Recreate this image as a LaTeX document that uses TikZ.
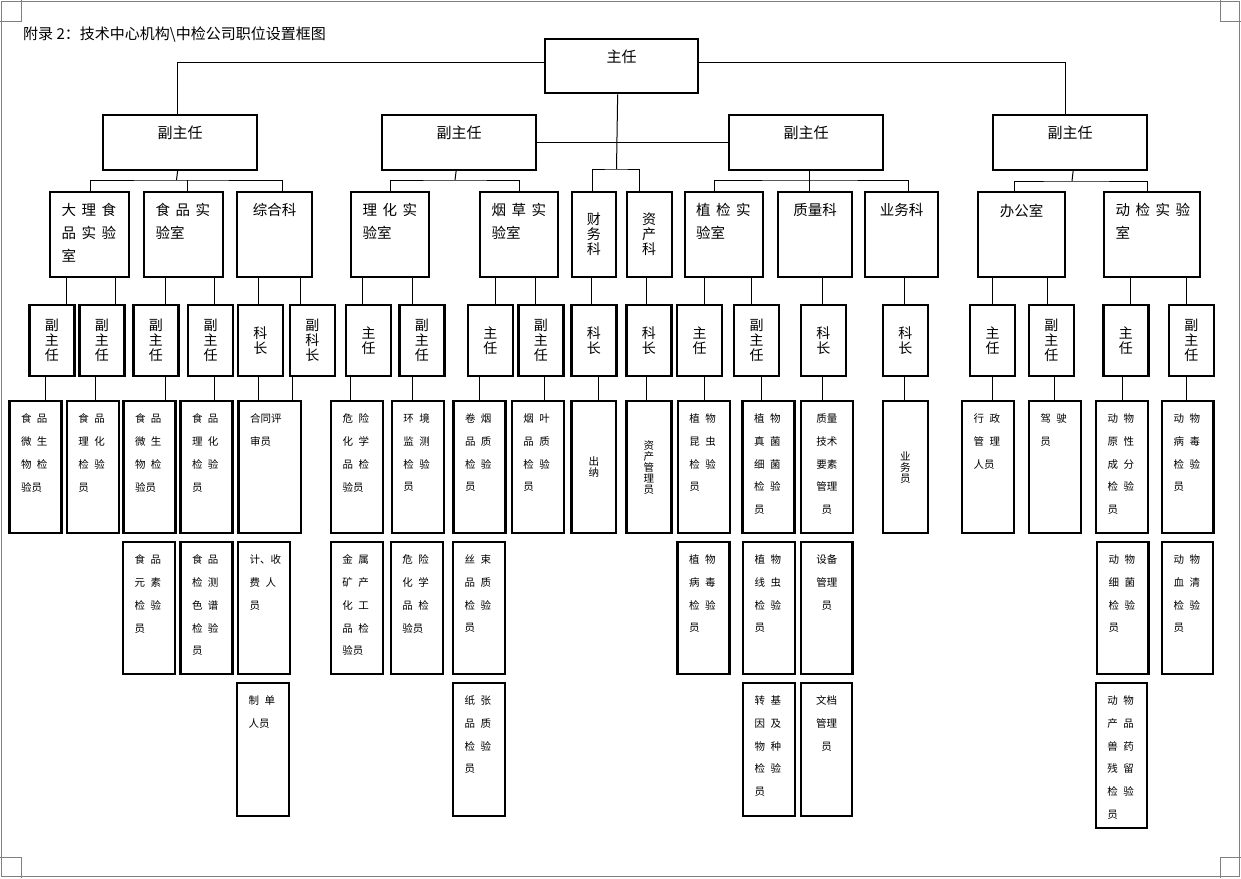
\documentclass[tikz,border=0pt]{standalone}
\usepackage{fontspec}
\setmainfont{Noto Sans CJK SC}
\newcommand\gap{\hspace{5.5pt}}
\newcommand\titlefont{\fontsize{15}{17}\selectfont}
\newcommand\headfont{\fontsize{15}{17}\selectfont}
\newcommand\deptfont{\fontsize{14.5}{22.8}\selectfont}
\newcommand\postfont{\fontsize{14}{15}\selectfont}
\newcommand\stafffont{\fontsize{10.5}{22.8}\selectfont}
\newcommand\staffvfont{\fontsize{10.5}{11}\selectfont}
\tikzset{head/.style={
            draw,
            line width=2.3pt,
            inner sep=0pt,
            anchor=north west,
            minimum width=154pt,
            minimum height=54.5pt
        },
        dept/.style={
            draw,
            line width=2.3pt,
            inner sep=0pt,
            anchor=north west,
            minimum width=78pt,
            minimum height=85pt
        },
        post/.style={
            draw,
            line width=2.3pt,
            inner sep=0pt,
            anchor=north west,
            minimum width=45pt,
            minimum height=71pt,
            align=center,
            font=\postfont
        },
        staff/.style={
            draw,
            line width=2.3pt,
            inner sep=0pt,
            anchor=north west,
            minimum width=52pt,
            minimum height=132pt
        },
        staffv/.style={
            staff,
            minimum width=45pt,
            align=center,
            font=\staffvfont
        },
        headtext/.style={anchor=north, yshift=-12pt, inner sep=0pt, font=\headfont},
        depttext/.style={anchor=north west, xshift=12.5pt, yshift=-12.5pt, inner sep=0pt, align=left, font=\deptfont},
        deptmid/.style={anchor=north, yshift=-12.5pt, inner sep=0pt, font=\deptfont},
        stafftext/.style={anchor=north west, xshift=12.5pt, yshift=-13.5pt, inner sep=0pt, align=left, font=\stafffont},
        staffmid/.style={anchor=north, yshift=-13.5pt, inner sep=0pt, align=center, font=\stafffont},
        link/.style={line width=1pt},
        frame/.style={gray, line width=0.8pt}
    }
\begin{document}
\begin{tikzpicture}[x=1pt,y=-1pt]
    \useasboundingbox (0,0) rectangle (1241,878);
    % page frame and corner marks
    \draw[frame] (1,1) rectangle (1239.5,876.5);
    \draw[frame] (21,0) -- (21,21) -- (0,21);
    \draw[frame] (1220,0) -- (1220,21) -- (1241,21);
    \draw[frame] (0,857) -- (21,857) -- (21,878);
    \draw[frame] (1241,857) -- (1220,857) -- (1220,878);
    \node[anchor=west, inner sep=0pt, font=\titlefont] (title) at (23,34) {附录 2：技术中心机构\textbackslash 中检公司职位设置框图};

    % heads
    \node[head, minimum width=153pt, minimum height=54pt, label={[headtext]north:主任}] (top) at (544,38) {};
    \node[head, label={[headtext]north:副主任}] (dA) at (102,114) {};
    \node[head, label={[headtext]north:副主任}] (dB) at (381,114) {};
    \node[head, label={[headtext]north:副主任}] (dC) at (728,114) {};
    \node[head, label={[headtext]north:副主任}] (dD) at (992,114) {};

    % departments
    \node[dept, minimum width=79pt, label={[depttext]north west:{大\gap 理\gap 食\\品\gap 实\gap 验\\室}}] (lab1) at (49,191) {};
    \node[dept, minimum width=79pt, label={[depttext]north west:{食\gap 品\gap 实\\验室}}] (lab2) at (143,191) {};
    \node[dept, minimum width=75pt, label={[deptmid]north:综合科}] (gen) at (236,191) {};
    \node[dept, label={[depttext]north west:{理\gap 化\gap 实\\验室}}] (lab3) at (350,191) {};
    \node[dept, label={[depttext]north west:{烟\gap 草\gap 实\\验室}}] (lab4) at (479,191) {};
    \node[dept, minimum width=44.5pt, align=center, font=\postfont] (fin) at (570.5,191) {财\\务\\科};
    \node[dept, minimum width=45pt, align=center, font=\postfont] (ast) at (625.5,191) {资\\产\\科};
    \node[dept, label={[depttext]north west:{植\gap 检\gap 实\\验室}}] (lab5) at (683.5,191) {};
    \node[dept, minimum width=74pt, label={[deptmid]north:质量科}] (qua) at (777,191) {};
    \node[dept, minimum width=73pt, label={[deptmid]north:业务科}] (biz) at (864,191) {};
    \node[dept, minimum width=87pt, label={[deptmid]north:办公室}] (off) at (977,191) {};
    \node[dept, minimum width=96pt, label={[depttext]north west:{动\gap 检\gap 实\gap 验\\室}}] (lab6) at (1103,191) {};

    % posts
    \node[post] (a1) at (28.3,304) {副\\主\\任};
    \node[post] (a2) at (78.3,304) {副\\主\\任};
    \node[post] (b1) at (132.3,304) {副\\主\\任};
    \node[post] (b2) at (187,304) {副\\主\\任};
    \node[post] (c1) at (236.7,304) {科\\长};
    \node[post] (c2) at (288.7,304) {副\\科\\长};
    \node[post] (d1) at (345,304) {主\\任};
    \node[post] (d2) at (398.3,304) {副\\主\\任};
    \node[post] (e1) at (466.7,304) {主\\任};
    \node[post] (e2) at (517.3,304) {副\\主\\任};
    \node[post] (f1) at (570.3,304) {科\\长};
    \node[post] (g1) at (625.3,304) {科\\长};
    \node[post] (h1) at (676,304) {主\\任};
    \node[post] (h2) at (733,304) {副\\主\\任};
    \node[post] (q1) at (799.7,304) {科\\长};
    \node[post] (k1) at (881.7,304) {科\\长};
    \node[post] (o1) at (969,304) {主\\任};
    \node[post] (o2) at (1027.7,304) {副\\主\\任};
    \node[post] (m1) at (1102.3,304) {主\\任};
    \node[post] (m2) at (1167.7,304) {副\\主\\任};

    % staff, first row
    \node[staff, label={[stafftext]north west:{食\gap 品\\微\gap 生\\物\gap 检\\验员}}] (s1) at (8.3,400) {};
    \node[staff, label={[stafftext]north west:{食\gap 品\\理\gap 化\\检\gap 验\\员}}] (s2) at (65.7,400) {};
    \node[staff, label={[stafftext]north west:{食\gap 品\\微\gap 生\\物\gap 检\\验员}}] (s3) at (122.3,400) {};
    \node[staff, label={[stafftext]north west:{食\gap 品\\理\gap 化\\检\gap 验\\员}}] (s4) at (179.3,400) {};
    \node[staff, minimum width=62.7pt, label={[stafftext]north west:{合同评\\审员}}] (s5) at (237.3,400) {};
    \node[staff, label={[stafftext]north west:{危\gap 险\\化\gap 学\\品\gap 检\\验员}}] (s6) at (330,400) {};
    \node[staff, label={[stafftext]north west:{环\gap 境\\监\gap 测\\检\gap 验\\员}}] (s7) at (390.7,400) {};
    \node[staff, label={[stafftext]north west:{卷\gap 烟\\品\gap 质\\检\gap 验\\员}}] (s8) at (452.3,400) {};
    \node[staff, label={[stafftext]north west:{烟\gap 叶\\品\gap 质\\检\gap 验\\员}}] (s9) at (510.7,400) {};
    \node[staffv, minimum width=44.7pt] (s10) at (570.3,400) {出\\纳};
    \node[staffv] (s11) at (625.3,400) {资\\产\\管\\理\\员};
    \node[staff, label={[stafftext]north west:{植\gap 物\\昆\gap 虫\\检\gap 验\\员}}] (s12) at (676.7,400) {};
    \node[staff, label={[stafftext]north west:{植\gap 物\\真\gap 菌\\细\gap 菌\\检\gap 验\\员}}] (s13) at (741.3,400) {};
    \node[staff, label={[staffmid]north:{质量\\技术\\要素\\管理\\员}}] (s14) at (799.7,400) {};
    \node[staffv] (s15) at (881.7,400) {业\\务\\员};
    \node[staff, label={[stafftext]north west:{行\gap 政\\管\gap 理\\人员}}] (s16) at (961,400) {};
    \node[staff, label={[stafftext]north west:{驾\gap 驶\\员}}] (s17) at (1027.7,400) {};
    \node[staff, label={[stafftext]north west:{动\gap 物\\原\gap 性\\成\gap 分\\检\gap 验\\员}}] (s18) at (1095,400) {};
    \node[staff, minimum width=51.3pt, label={[stafftext]north west:{动\gap 物\\病\gap 毒\\检\gap 验\\员}}] (s19) at (1161,400) {};

    % staff, second row
    \node[staff, label={[stafftext]north west:{食\gap 品\\元\gap 素\\检\gap 验\\员}}] (t1) at (122,541) {};
    \node[staff, label={[stafftext]north west:{食\gap 品\\检\gap 测\\色\gap 谱\\检\gap 验\\员}}] (t2) at (179.3,541) {};
    \node[staff, label={[stafftext]north west:{计、收\\费\gap 人\\员}}] (t3) at (237,541) {};
    \node[staff, label={[stafftext]north west:{金\gap 属\\矿\gap 产\\化\gap 工\\品\gap 检\\验员}}] (t4) at (329.7,541) {};
    \node[staff, label={[stafftext]north west:{危\gap 险\\化\gap 学\\品\gap 检\\验员}}] (t5) at (389.7,541) {};
    \node[staff, label={[stafftext]north west:{丝\gap 束\\品\gap 质\\检\gap 验\\员}}] (t6) at (452,541) {};
    \node[staff, label={[stafftext]north west:{植\gap 物\\病\gap 毒\\检\gap 验\\员}}] (t7) at (676.3,541) {};
    \node[staff, label={[stafftext]north west:{植\gap 物\\线\gap 虫\\检\gap 验\\员}}] (t8) at (742,541) {};
    \node[staff, minimum width=51.2pt, label={[staffmid]north:{设备\\管理\\员}}] (t9) at (800,541) {};
    \node[staff, minimum width=51.2pt, label={[stafftext]north west:{动\gap 物\\细\gap 菌\\检\gap 验\\员}}] (t10) at (1096,541) {};
    \node[staff, minimum width=51pt, label={[stafftext]north west:{动\gap 物\\血\gap 清\\检\gap 验\\员}}] (t11) at (1161,541) {};

    % staff, third row
    \node[staff, minimum height=133pt, label={[stafftext]north west:{制\gap 单\\人员}}] (u1) at (236,682) {};
    \node[staff, minimum height=133pt, label={[stafftext]north west:{纸\gap 张\\品\gap 质\\检\gap 验\\员}}] (u2) at (452,682) {};
    \node[staff, minimum height=133pt, label={[stafftext]north west:{转\gap 基\\因\gap 及\\物\gap 种\\检\gap 验\\员}}] (u3) at (742,682) {};
    \node[staff, minimum width=51pt, minimum height=133pt, label={[staffmid]north:{文档\\管理\\员}}] (u4) at (800,682) {};
    \node[staff, minimum width=51pt, minimum height=144.5pt, label={[stafftext]north west:{动\gap 物\\产\gap 品\\兽\gap 药\\残\gap 留\\检\gap 验\\员}}] (u5) at (1094.6,682) {};

    % head links
    \draw[link] ([yshift=4pt]top.west) -| ([xshift=-3pt]dA.north);
    \draw[link] ([yshift=4pt]top.east) -| ([xshift=-5pt]dD.north);
    \draw[link] (dB.east) -- (dC.west);
    \coordinate (split) at (616.5,169);
    \draw[link] ([xshift=-4pt]top.south) -- (split);
    \draw[link] ([xshift=-1.5pt]fin.north) |- (split) -| ([xshift=-10pt]ast.north);

    % deputy to department
    \coordinate (barA) at (176.5,180);
    \draw[link] ([xshift=-2.5pt]dA.south) -- (barA);
    \draw[link] ([xshift=0.5pt]lab1.north) |- (barA) -| ([xshift=8pt]gen.north);
    \draw[link] (lab2.north -| 187.5,0) -- (barA -| 187.5,0);
    \coordinate (barB) at (455,180);
    \draw[link] ([xshift=-3pt]dB.south) -- (barB);
    \draw[link] (lab3.north) |- (barB) -| (lab4.north);
    \coordinate (barC) at (808.5,180);
    \draw[link] ([xshift=3.5pt]dC.south) -- ([xshift=-5.5pt]qua.north);
    \draw[link] ([xshift=-9.5pt]lab5.north) |- (barC) -| ([xshift=6.5pt]biz.north);
    \coordinate (barD) at (1072,181);
    \draw[link] ([xshift=3pt]dD.south) -- (barD);
    \draw[link] ([xshift=-7pt]off.north) |- (barD) -| ([xshift=-4.5pt]lab6.north);

    % department to post
    \draw[link] (lab1.south -| 66.7,0) -- (a1.north -| 66.7,0);
    \draw[link] (lab1.south -| 115,0) -- (a2.north -| 115,0);
    \draw[link] (lab2.south -| 165.7,0) -- (b1.north -| 165.7,0);
    \draw[link] (lab2.south -| 214,0) -- (b2.north -| 214,0);
    \draw[link] (gen.south -| 258,0) -- (c1.north -| 258,0);
    \draw[link] (gen.south -| 300,0) -- (c2.north -| 300,0);
    \draw[link] (lab3.south -| 362.7,0) -- (d1.north -| 362.7,0);
    \draw[link] (lab3.south -| 412.7,0) -- (d2.north -| 412.7,0);
    \draw[link] (lab4.south -| 495.7,0) -- (e1.north -| 495.7,0);
    \draw[link] (lab4.south -| 535.7,0) -- (e2.north -| 535.7,0);
    \draw[link] (fin.south -| 591.7,0) -- (f1.north -| 591.7,0);
    \draw[link] (ast.south -| 646.3,0) -- (g1.north -| 646.3,0);
    \draw[link] (lab5.south -| 704.3,0) -- (h1.north -| 704.3,0);
    \draw[link] (lab5.south -| 751.7,0) -- (h2.north -| 751.7,0);
    \draw[link] (qua.south -| 822.3,0) -- (q1.north -| 822.3,0);
    \draw[link] (biz.south -| 904.3,0) -- (k1.north -| 904.3,0);
    \draw[link] (off.south -| 992.7,0) -- (o1.north -| 992.7,0);
    \draw[link] (off.south -| 1047.3,0) -- (o2.north -| 1047.3,0);
    \draw[link] (lab6.south -| 1130,0) -- (m1.north -| 1130,0);
    \draw[link] (lab6.south -| 1186,0) -- (m2.north -| 1186,0);

    % post to staff
    \draw[link] (a1.south -| 45,0) -- (s1.north -| 45,0);
    \draw[link] (a2.south -| 95.7,0) -- (s2.north -| 95.7,0);
    \draw[link] (b1.south -| 165.7,0) -- (s3.north -| 165.7,0);
    \draw[link] (b2.south -| 214.3,0) -- (s4.north -| 214.3,0);
    \draw[link] (c1.south -| 258.3,0) -- (s5.north -| 258.3,0);
    \draw[link] (c2.south -| 292.7,0) -- (s5.north -| 292.7,0);
    \draw[link] (d1.south -| 350.7,0) -- (s6.north -| 350.7,0);
    \draw[link] (d2.south -| 412.7,0) -- (s7.north -| 412.7,0);
    \draw[link] (e1.south -| 479.7,0) -- (s8.north -| 479.7,0);
    \draw[link] (e2.south -| 544.3,0) -- (s9.north -| 544.3,0);
    \draw[link] (f1.south -| 598.3,0) -- (s10.north -| 598.3,0);
    \draw[link] (g1.south -| 646.3,0) -- (s11.north -| 646.3,0);
    \draw[link] (h1.south -| 704.3,0) -- (s12.north -| 704.3,0);
    \draw[link] (h2.south -| 761.7,0) -- (s13.north -| 761.7,0);
    \draw[link] (q1.south -| 822.3,0) -- (s14.north -| 822.3,0);
    \draw[link] (k1.south -| 904.3,0) -- (s15.north -| 904.3,0);
    \draw[link] (o1.south -| 992.7,0) -- (s16.north -| 992.7,0);
    \draw[link] (o2.south -| 1054.3,0) -- (s17.north -| 1054.3,0);
    \draw[link] (m1.south -| 1122.7,0) -- (s18.north -| 1122.7,0);
    \draw[link] (m2.south -| 1186,0) -- (s19.north -| 1186,0);
\end{tikzpicture}
\end{document}
